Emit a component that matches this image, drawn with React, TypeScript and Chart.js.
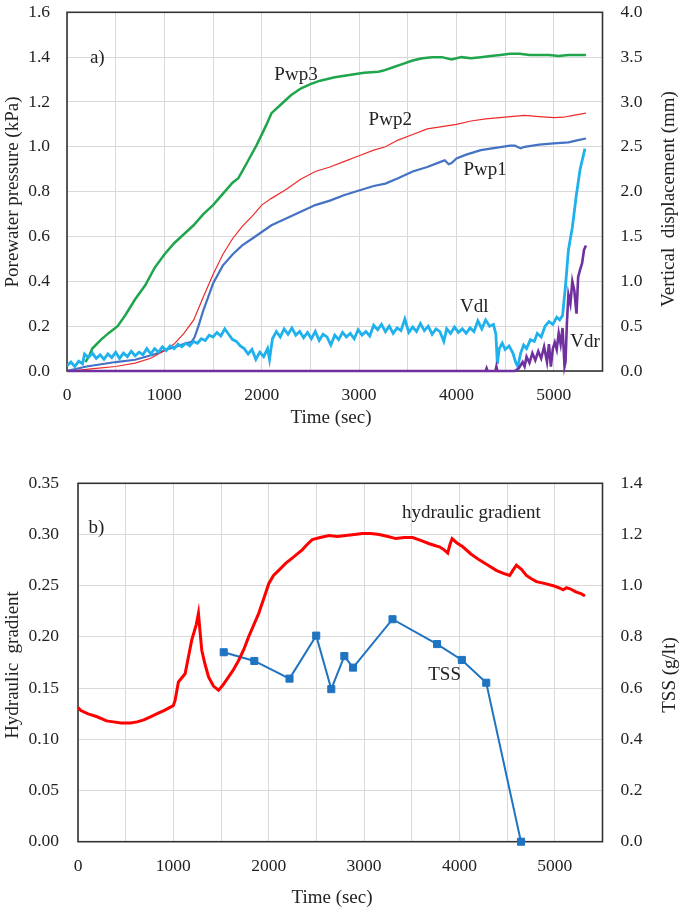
import React, { useEffect, useRef } from 'react';
import { Chart, registerables } from 'chart.js';

Chart.register(...registerables);

const FONT = '"Liberation Serif", "Times New Roman", serif';
const TEXT = '#222222';

// ---------- Chart a) ----------
const pwp3Time = [190, 230, 260, 350, 430, 520, 600, 700, 800, 900, 1000, 1100, 1200, 1300, 1400, 1500, 1600, 1700, 1760, 1850, 1950, 2050, 2100, 2200, 2300, 2400, 2500, 2600, 2750, 2900, 3050, 3200, 3250, 3350, 3450, 3550, 3650, 3750, 3850, 3950, 4050, 4150, 4250, 4350, 4450, 4550, 4650, 4750, 4850, 4950, 5050, 5150, 5250, 5330];
const pwp3Value = [0.04, 0.07, 0.1, 0.14, 0.17, 0.2, 0.25, 0.32, 0.38, 0.46, 0.52, 0.57, 0.61, 0.65, 0.7, 0.74, 0.79, 0.84, 0.86, 0.93, 1.01, 1.1, 1.15, 1.19, 1.23, 1.26, 1.28, 1.295, 1.31, 1.32, 1.33, 1.335, 1.34, 1.355, 1.37, 1.385, 1.395, 1.4, 1.4, 1.39, 1.4, 1.395, 1.4, 1.405, 1.41, 1.415, 1.415, 1.41, 1.41, 1.41, 1.405, 1.41, 1.41, 1.41];

const pwp2Time = [0, 100, 300, 500, 700, 860, 1000, 1100, 1200, 1300, 1400, 1450, 1500, 1600, 1700, 1800, 1900, 2000, 2100, 2250, 2400, 2550, 2700, 2850, 3000, 3150, 3270, 3400, 3550, 3700, 3850, 4000, 4150, 4300, 4500, 4700, 4850, 5000, 5100, 5200, 5330];
const pwp2Value = [0.0, 0.003, 0.012, 0.02, 0.035, 0.057, 0.09, 0.12, 0.168, 0.227, 0.33, 0.38, 0.43, 0.52, 0.59, 0.645, 0.69, 0.74, 0.77, 0.81, 0.855, 0.89, 0.91, 0.935, 0.96, 0.985, 1.0, 1.03, 1.055, 1.08, 1.09, 1.1, 1.115, 1.125, 1.132, 1.14, 1.135, 1.13, 1.132, 1.14, 1.15];

const pwp1Time = [0, 100, 200, 350, 500, 700, 900, 1050, 1200, 1280, 1310, 1350, 1400, 1450, 1500, 1600, 1700, 1800, 1900, 2000, 2100, 2250, 2400, 2550, 2700, 2850, 3000, 3150, 3270, 3400, 3550, 3700, 3850, 3880, 3920, 3950, 4000, 4100, 4250, 4400, 4550, 4600, 4660, 4700, 4850, 5000, 5150, 5250, 5330];
const pwp1Value = [0.0, 0.01, 0.02, 0.03, 0.04, 0.05, 0.075, 0.1, 0.12, 0.13, 0.15, 0.2, 0.27, 0.33, 0.39, 0.47, 0.52, 0.56, 0.59, 0.62, 0.65, 0.68, 0.71, 0.74, 0.76, 0.785, 0.805, 0.825, 0.836, 0.86, 0.89, 0.91, 0.935, 0.94, 0.922, 0.928, 0.948, 0.965, 0.985, 0.995, 1.005, 1.005, 0.993, 1.0, 1.01, 1.015, 1.02, 1.03, 1.037];

const vdlTime = [0, 40, 80, 120, 160, 180, 220, 260, 300, 340, 380, 420, 460, 500, 540, 580, 620, 660, 700, 740, 780, 820, 860, 900, 940, 980, 1020, 1060, 1100, 1140, 1180, 1220, 1260, 1300, 1340, 1380, 1420, 1460, 1500, 1540, 1580, 1620, 1660, 1700, 1740, 1780, 1820, 1860, 1900, 1940, 1980, 2020, 2060, 2080, 2110, 2150, 2190, 2230, 2270, 2310, 2350, 2390, 2430, 2470, 2510, 2550, 2590, 2630, 2670, 2710, 2750, 2790, 2830, 2870, 2910, 2950, 2990, 3030, 3070, 3110, 3150, 3190, 3230, 3270, 3310, 3350, 3390, 3430, 3470, 3510, 3550, 3590, 3630, 3670, 3710, 3750, 3790, 3830, 3870, 3900, 3940, 3980, 4020, 4060, 4100, 4140, 4180, 4220, 4260, 4300, 4340, 4380, 4405, 4420, 4440, 4470, 4500, 4540, 4580, 4610, 4630, 4660, 4690, 4720, 4760, 4800, 4830, 4870, 4910, 4950, 4990, 5030, 5060, 5090, 5120, 5150, 5190, 5230, 5270, 5320];
const vdlValue = [0.06, 0.1, 0.05, 0.11, 0.08, 0.19, 0.15, 0.2, 0.14, 0.18, 0.13, 0.19, 0.15, 0.21, 0.14, 0.2, 0.16, 0.22, 0.17, 0.21, 0.18, 0.25, 0.19, 0.25, 0.21, 0.27, 0.23, 0.28, 0.25, 0.3, 0.27, 0.31, 0.28, 0.33, 0.31, 0.36, 0.34, 0.4, 0.38, 0.43, 0.39, 0.47, 0.41, 0.35, 0.33, 0.28, 0.25, 0.19, 0.24, 0.13, 0.21, 0.16, 0.25, 0.13, 0.36, 0.44, 0.38, 0.47, 0.41, 0.48, 0.4, 0.44, 0.37, 0.43, 0.36, 0.44, 0.34, 0.41, 0.38, 0.29, 0.4, 0.35, 0.43, 0.38, 0.42, 0.36, 0.46, 0.4, 0.44, 0.39, 0.51, 0.46, 0.52, 0.44, 0.5, 0.42, 0.48, 0.45, 0.58, 0.43, 0.49, 0.44, 0.53, 0.45, 0.5, 0.41, 0.47, 0.44, 0.33, 0.47, 0.42, 0.49, 0.43, 0.47, 0.42, 0.48, 0.44, 0.56, 0.47, 0.57, 0.5, 0.52, 0.41, 0.08, 0.25, 0.31, 0.24, 0.28, 0.2, 0.09, 0.05, 0.2, 0.29, 0.25, 0.35, 0.33, 0.42, 0.38, 0.5, 0.55, 0.52, 0.6, 0.57, 0.62, 0.95, 1.35, 1.6, 1.95, 2.25, 2.48];

const vdrTime = [0, 4300, 4310, 4320, 4400, 4410, 4420, 4600, 4640, 4680, 4700, 4720, 4750, 4780, 4810, 4840, 4870, 4900, 4930, 4950, 4970, 4990, 5010, 5030, 5050, 5070, 5090, 5110, 5120, 5135, 5150, 5170, 5190, 5210, 5233, 5250, 5270, 5290, 5310, 5330];
const vdrValue = [0, 0, 0.03, 0, 0, 0.05, 0, 0, 0.03, 0.1, 0.05, 0.16, 0.09, 0.2, 0.12, 0.22, 0.14, 0.27, 0.1, 0.3, 0.05, 0.25, 0.32, 0.24, 0.42, 0.3, 0.48, 0.05, 0.1, 0.55, 0.85, 0.75, 1.0, 0.9, 0.64, 1.05, 1.13, 1.2, 1.35, 1.4];

const notesAText = ['a)', 'Pwp3', 'Pwp2', 'Pwp1', 'Vdl', 'Vdr'];
const notesAX = [311, 2352, 3320, 4295, 4182, 5168];
const notesAY = [1.396, 1.32, 1.12, 0.896, 0.287, 0.131];
const notesAAlign = ['center', 'center', 'center', 'center', 'center', 'left'];

// ---------- Chart b) ----------
const hgTime = [0, 30, 100, 200, 300, 370, 450, 550, 620, 690, 760, 830, 900, 960, 1000, 1018, 1053, 1123, 1193, 1240, 1263, 1280, 1298, 1330, 1369, 1420, 1474, 1520, 1579, 1630, 1684, 1740, 1789, 1840, 1895, 1950, 2000, 2050, 2105, 2180, 2246, 2300, 2351, 2400, 2456, 2540, 2632, 2720, 2807, 2900, 2983, 3070, 3158, 3250, 3334, 3420, 3509, 3600, 3684, 3750, 3790, 3840, 3877, 3900, 3923, 3970, 4035, 4120, 4211, 4300, 4386, 4460, 4527, 4560, 4597, 4650, 4702, 4750, 4807, 4900, 4983, 5040, 5088, 5123, 5160, 5220, 5280, 5316];
const hgValue = [0.131, 0.128, 0.125, 0.122, 0.118, 0.117, 0.116, 0.116, 0.117, 0.119, 0.122, 0.125, 0.128, 0.131, 0.133, 0.138, 0.156, 0.164, 0.197, 0.212, 0.223, 0.205, 0.187, 0.174, 0.161, 0.152, 0.148, 0.153, 0.161, 0.168, 0.177, 0.188, 0.2, 0.211, 0.223, 0.238, 0.252, 0.26, 0.265, 0.272, 0.277, 0.281, 0.285, 0.29, 0.295, 0.297, 0.299, 0.298, 0.299, 0.3, 0.301, 0.301, 0.3, 0.298, 0.296, 0.297, 0.297, 0.294, 0.291, 0.289, 0.288, 0.285, 0.282, 0.29, 0.296, 0.292, 0.288, 0.281, 0.275, 0.27, 0.265, 0.262, 0.26, 0.265, 0.27, 0.266, 0.26, 0.257, 0.254, 0.252, 0.25, 0.248, 0.246, 0.248, 0.247, 0.244, 0.242, 0.24];

const tssTime = [1528, 1849, 2218, 2498, 2656, 2793, 2884, 3298, 3765, 4025, 4281, 4645];
const tssValue = [0.74, 0.706, 0.637, 0.805, 0.596, 0.725, 0.68, 0.869, 0.772, 0.71, 0.621, 0.0];

const notesBText = ['b)', 'hydraulic gradient', 'TSS'];
const notesBX = [194, 4125, 3844];
const notesBY = [0.306, 0.321, 0.163];
const notesBAlign = ['center', 'center', 'center'];

// ---------- helpers ----------
const pts = (t: number[], v: number[]) => t.map((x, i) => ({ x, y: v[i] }));

type Title = { text: string; x: number; y: number; rot: number };

function decor(titles: Title[], texts: string[], xs: number[], ys: number[], aligns: string[], yId: string) {
  return {
    id: 'decor',
    beforeDatasetsDraw(chart: any) {
      const { ctx, chartArea: a } = chart;
      ctx.save();
      ctx.strokeStyle = '#333333';
      ctx.lineWidth = 1.6;
      ctx.strokeRect(a.left, a.top, a.right - a.left, a.bottom - a.top);
      ctx.restore();
    },
    afterDraw(chart: any) {
      const { ctx, chartArea: a } = chart;
      ctx.save();
      ctx.fillStyle = TEXT;
      ctx.font = `19px ${FONT}`;
      ctx.textBaseline = 'middle';
      ctx.textAlign = 'center';
      for (const t of titles) {
        ctx.save();
        ctx.translate(t.x, t.y);
        ctx.rotate(t.rot);
        ctx.fillText(t.text, 0, 0);
        ctx.restore();
      }
      ctx.beginPath();
      ctx.rect(a.left, a.top, a.right - a.left, a.bottom - a.top);
      ctx.clip();
      const xs_ = chart.scales.x;
      const ys_ = chart.scales[yId];
      texts.forEach((txt, i) => {
        ctx.textAlign = aligns[i] as CanvasTextAlign;
        ctx.fillText(txt, xs_.getPixelForValue(xs[i]), ys_.getPixelForValue(ys[i]));
      });
      ctx.restore();
    },
  };
}

function xScale(bottomHeight: number) {
  return {
    type: 'linear' as const,
    min: 0,
    max: 5500,
    afterFit: (s: any) => { s.height = bottomHeight; s.paddingLeft = 0; s.paddingRight = 0; },
    border: { display: false },
    grid: { color: '#d9d9d9', lineWidth: 1, drawTicks: false },
    ticks: {
      stepSize: 500,
      autoSkip: false,
      maxRotation: 0,
      padding: 14,
      color: TEXT,
      font: { family: FONT, size: 17.5 },
      callback: (v: any) => (Number(v) % 1000 === 0 ? String(v) : ''),
    },
  };
}

function yScale(pos: 'left' | 'right', max: number, step: number, digits: number, width: number, pad: number, grid: boolean) {
  return {
    type: 'linear' as const,
    position: pos,
    min: 0,
    max,
    afterFit: (s: any) => { s.width = width; s.paddingTop = 0; s.paddingBottom = 0; },
    border: { display: false },
    grid: { display: grid, color: '#d9d9d9', lineWidth: 1, drawTicks: false },
    ticks: {
      stepSize: step,
      padding: pad,
      color: TEXT,
      font: { family: FONT, size: 17.5 },
      callback: (v: any) => Number(v).toFixed(digits),
    },
  };
}

function ChartA() {
  const ref = useRef<HTMLCanvasElement>(null);
  useEffect(() => {
    const chart = new Chart(ref.current as HTMLCanvasElement, {
      type: 'line',
      data: {
        datasets: [
          { label: 'Vdr', data: pts(vdrTime, vdrValue), yAxisID: 'y1', borderColor: '#7030a0', borderWidth: 2.6, pointRadius: 0, clip: false },
          { label: 'Vdl', data: pts(vdlTime, vdlValue), yAxisID: 'y1', borderColor: '#1eb1ec', borderWidth: 2.8, pointRadius: 0 },
          { label: 'Pwp2', data: pts(pwp2Time, pwp2Value), yAxisID: 'y', borderColor: '#ee2a2a', borderWidth: 1.2, pointRadius: 0 },
          { label: 'Pwp1', data: pts(pwp1Time, pwp1Value), yAxisID: 'y', borderColor: '#4472c4', borderWidth: 2.2, pointRadius: 0 },
          { label: 'Pwp3', data: pts(pwp3Time, pwp3Value), yAxisID: 'y', borderColor: '#1fa54c', borderWidth: 2.5, pointRadius: 0 },
        ],
      },
      options: {
        animation: false,
        responsive: false,
        devicePixelRatio: 1,
        layout: { padding: { top: 12.3, left: 0, right: 0, bottom: 0 } },
        plugins: { legend: { display: false }, tooltip: { enabled: false } },
        elements: { line: { tension: 0 } },
        scales: {
          x: xScale(69),
          y: yScale('left', 1.6, 0.2, 1, 67, 17, true),
          y1: yScale('right', 4.0, 0.5, 1, 82.5, 18, false),
        },
      } as any,
      plugins: [
        decor(
          [
            { text: 'Porewater pressure (kPa)', x: 13, y: 192, rot: -Math.PI / 2 },
            { text: 'Vertical  displacement (mm)', x: 669, y: 199, rot: -Math.PI / 2 },
            { text: 'Time (sec)', x: 331, y: 418, rot: 0 },
          ],
          notesAText, notesAX, notesAY, notesAAlign, 'y'
        ),
      ],
    });
    return () => chart.destroy();
  }, []);
  return <canvas ref={ref} width={685} height={440} style={{ position: 'absolute', left: 0, top: 0, width: 685, height: 440 }} />;
}

function ChartB() {
  const ref = useRef<HTMLCanvasElement>(null);
  useEffect(() => {
    const chart = new Chart(ref.current as HTMLCanvasElement, {
      type: 'line',
      data: {
        datasets: [
          { label: 'hydraulic gradient', data: pts(hgTime, hgValue), yAxisID: 'y', borderColor: '#ff0000', borderWidth: 3, pointRadius: 0 },
          { label: 'TSS', data: pts(tssTime, tssValue), yAxisID: 'y1', borderColor: '#1f74c2', borderWidth: 2, pointStyle: 'rect', pointRadius: 5, pointBackgroundColor: '#1f74c2', pointBorderColor: '#1f74c2', pointBorderWidth: 1, clip: false },
        ],
      },
      options: {
        animation: false,
        responsive: false,
        devicePixelRatio: 1,
        layout: { padding: { top: 33.3, left: 0, right: 0, bottom: 0 } },
        plugins: { legend: { display: false }, tooltip: { enabled: false } },
        elements: { line: { tension: 0 } },
        scales: {
          x: xScale(70.3),
          y: yScale('left', 0.35, 0.05, 2, 78, 19, true),
          y1: yScale('right', 1.4, 0.2, 1, 82.5, 18, false),
        },
      } as any,
      plugins: [
        decor(
          [
            { text: 'Hydraulic  gradient', x: 13, y: 215, rot: -Math.PI / 2 },
            { text: 'TSS (g/lt)', x: 670, y: 225, rot: -Math.PI / 2 },
            { text: 'Time (sec)', x: 332, y: 448, rot: 0 },
          ],
          notesBText, notesBX, notesBY, notesBAlign, 'y'
        ),
      ],
    });
    return () => chart.destroy();
  }, []);
  return <canvas ref={ref} width={685} height={462} style={{ position: 'absolute', left: 0, top: 450, width: 685, height: 462 }} />;
}

export default function App() {
  return (
    <div style={{ position: 'absolute', left: 0, top: 0, width: 685, height: 912, background: '#ffffff' }}>
      <ChartA />
      <ChartB />
    </div>
  );
}
